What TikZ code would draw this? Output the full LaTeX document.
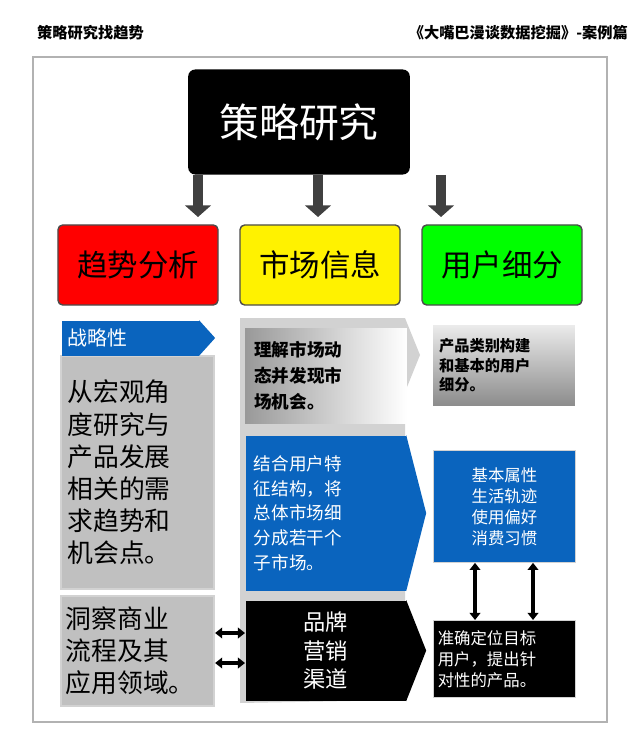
\documentclass[tikz,border=0pt]{standalone}
\usepackage{fontspec}
\setmainfont{Noto Sans CJK SC}
\usetikzlibrary{calc,arrows.meta,positioning}

\definecolor{bblue}{RGB}{10,100,190}
\definecolor{lgray}{RGB}{192,192,192}
\definecolor{fgray}{RGB}{210,210,210}

\tikzset{
  head/.style = {rectangle, rounded corners=6pt, minimum width=6.65cm, minimum height=3.15cm, fill=black, text=white, font=\fontsize{34}{38}\selectfont},
  cat/.style = {rectangle, rounded corners=4pt, minimum width=4.8cm, minimum height=2.4cm, draw=black!70, line width=1.2pt, font=\fontsize{26}{30}\selectfont},
  gbox/.style = {rectangle, fill=lgray, draw=fgray, line width=1.5pt, inner sep=4pt, align=left},
  bbox/.style = {rectangle, fill=bblue, text=white, draw=fgray, line width=1pt, align=left},
  kbox/.style = {rectangle, fill=black, text=white, draw=fgray, line width=1pt, align=center},
  down/.style = {-{Triangle[length=10pt,width=22pt]}, line width=8pt, draw=black!75},
  dbl/.style = {{Triangle[length=6pt,width=9pt]}-{Triangle[length=6pt,width=9pt]}, line width=3.5pt}
}

\begin{document}
\begin{tikzpicture}[x=0.03cm,y=-0.03cm]
\useasboundingbox (0,0) rectangle (640,739);

    % titles
    \node[anchor=west, font=\bfseries\fontsize{13}{15}\selectfont] (TL) at (33,33) {策略研究找趋势};
    \node[anchor=east, font=\bfseries\fontsize{13}{15}\selectfont] (TR) at (632,33) {《大嘴巴漫谈数据挖掘》-案例篇};
    \draw[draw=black!30, line width=1.2pt] (33,57) rectangle (607,722);

    % top
    \node[head] (H) at (299,122) {策略研究};
    \node[cat, fill=red] (C1) at (138,265) {趋势分析};
    \node[cat, fill=yellow] (C2) at (320,265) {市场信息};
    \node[cat, fill=green] (C3) at (502,265) {用户细分};
    \foreach \x in {198,318,441}
      \draw[down] (\x,175) -- (\x,217);

    % left column
    \node[gbox, minimum width=4.6cm, minimum height=7cm, anchor=north west, font=\fontsize{22}{27.5}\selectfont, inner sep=3pt, text width=4.2cm] (L1) at (60,355) {从宏观角\\度研究与\\产品发展\\相关的需\\求趋势和\\机会点。};
    \node[rectangle, fill=bblue, text=white, anchor=west, minimum width=4.1cm, minimum height=1.05cm, font=\fontsize{17}{19}\selectfont, text width=3.8cm] (LT) at (62,338) {战略性};
    \fill[bblue] (LT.north east) -- ($(LT.east)+(16,0)$) -- (LT.south east) -- cycle;
    \node[gbox, minimum width=4.6cm, minimum height=3.3cm, anchor=north west, font=\fontsize{22}{27.5}\selectfont, inner sep=3pt, text width=4.3cm] (L2) at (60,595) {洞察商业\\流程及其\\应用领域。};

    % middle column
    \fill[fgray] (240,318) -- (405,318) -- (420,355) -- (405,392) -- (405,700) -- (240,703) -- cycle;
    \node[rectangle, anchor=north west, minimum width=4.85cm, minimum height=2.85cm, shading=axis, left color=black!40, right color=white, align=left, text width=4.3cm, font=\bfseries\fontsize{15}{22}\selectfont] (M1) at (245,328) {理解市场动\\态并发现市\\场机会。};
    \node[bbox, anchor=north west, minimum width=4.8cm, minimum height=4.65cm, draw=none, text width=4.3cm, font=\fontsize{15}{21}\selectfont] (M2) at (245,435) {结合用户特\\征结构，将\\总体市场细\\分成若干个\\子市场。};
    \fill[bblue] (M2.north east) -- ($(M2.east)+(20,0)$) -- (M2.south east) -- cycle;
    \node[kbox, anchor=north west, minimum width=4.8cm, minimum height=3cm, draw=none, font=\fontsize{19}{24}\selectfont] (M3) at (245,600) {品牌\\营销\\渠道};
    \fill[black] (M3.north east) -- ($(M3.east)+(20,0)$) -- (M3.south east) -- cycle;

    % right column
    \node[rectangle, anchor=north west, minimum width=4.25cm, minimum height=2.4cm, shading=axis, top color=black!8, bottom color=black!45, align=left, text width=3.9cm, font=\bfseries\fontsize{13}{17}\selectfont] (R1) at (433,325) {产品类别构建\\和基本的用户\\细分。};
    \node[bbox, anchor=north west, minimum width=4.25cm, minimum height=3.35cm, align=center, font=\fontsize{14}{18}\selectfont] (R2) at (433,450) {基本属性\\生活轨迹\\使用偏好\\消费习惯};
    \node[kbox, anchor=north west, minimum width=4.25cm, minimum height=2.3cm, align=left, text width=4cm, inner sep=2pt, font=\fontsize{14}{18}\selectfont] (R3) at (433,620) {准确定位目标\\用户，提出针\\对性的产品。};

    \draw[dbl] (R2.south -| 475,0) -- (R3.north -| 475,0);
    \draw[dbl] (R2.south -| 533,0) -- (R3.north -| 533,0);
    \draw[dbl] (L2.east |- 0,633) -- (M3.west |- 0,633);
    \draw[dbl] (L2.east |- 0,663) -- (M3.west |- 0,663);

\end{tikzpicture}
\end{document}
